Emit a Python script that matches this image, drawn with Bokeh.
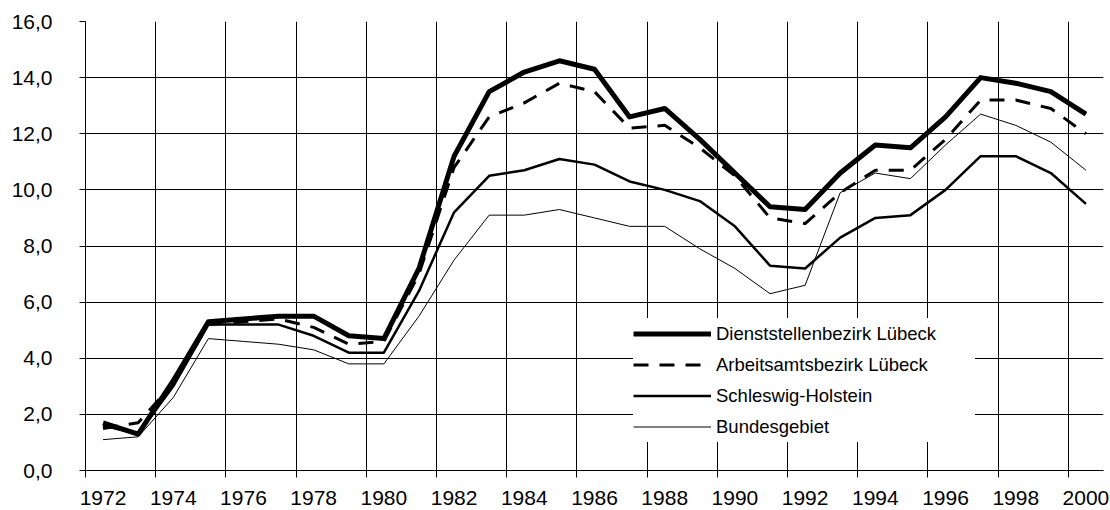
from bokeh.plotting import figure
from bokeh.models import FixedTicker, Range1d, Legend, LegendItem
from bokeh.embed import file_html
from bokeh.resources import INLINE

years = list(range(1972, 2001))
dienst = [1.7, 1.3, 3.2, 5.3, 5.4, 5.5, 5.5, 4.8, 4.7, 7.2, 11.2, 13.5, 14.2, 14.6, 14.3,
          12.6, 12.9, 11.8, 10.6, 9.4, 9.3, 10.6, 11.6, 11.5, 12.6, 14.0, 13.8, 13.5, 12.7]
arbeit = [1.5, 1.7, 3.1, 5.2, 5.3, 5.4, 5.1, 4.5, 4.6, 7.0, 10.8, 12.6, 13.1, 13.8, 13.5,
          12.2, 12.3, 11.5, 10.5, 9.0, 8.8, 9.9, 10.7, 10.7, 11.8, 13.2, 13.2, 12.9, 12.0]
schleswig = [1.6, 1.3, 3.0, 5.2, 5.2, 5.2, 4.8, 4.2, 4.2, 6.4, 9.2, 10.5, 10.7, 11.1, 10.9,
             10.3, 10.0, 9.6, 8.7, 7.3, 7.2, 8.3, 9.0, 9.1, 10.0, 11.2, 11.2, 10.6, 9.5]
bund = [1.1, 1.2, 2.6, 4.7, 4.6, 4.5, 4.3, 3.8, 3.8, 5.5, 7.5, 9.1, 9.1, 9.3, 9.0,
        8.7, 8.7, 7.9, 7.2, 6.3, 6.6, 9.9, 10.6, 10.4, 11.6, 12.7, 12.3, 11.7, 10.7]
series_names = ["Dienststellenbezirk Lübeck", "Arbeitsamtsbezirk Lübeck",
                "Schleswig-Holstein", "Bundesgebiet"]
label_years = list(range(1972, 2001, 2))
y_ticks = list(range(0, 17, 2))

# category axis: each year occupies one slot, point at slot centre
xc = [y + 0.5 for y in years]

FONT = "Liberation Sans"

p = figure(width=1110, height=510, output_backend="svg", toolbar_location=None,
           x_range=Range1d(1972, 2001), y_range=Range1d(0, 16),
           min_border_left=85, min_border_right=7, min_border_top=21, min_border_bottom=40)
p.outline_line_color = None
p.background_fill_color = "white"
p.border_fill_color = "white"

# grids
p.xgrid.ticker = FixedTicker(ticks=label_years)
p.ygrid.ticker = FixedTicker(ticks=y_ticks)
for g in (p.xgrid, p.ygrid):
    g.grid_line_color = "#000000"
    g.grid_line_width = 1

# x axis: labels centred in category slots, tick marks at slot borders
xa = p.xaxis[0]
xa.ticker = FixedTicker(ticks=[y + 0.5 for y in label_years], minor_ticks=label_years)
xa.major_label_overrides = {y + 0.5: str(y) for y in label_years}
xa.major_tick_line_color = None
xa.major_tick_out = 0
xa.major_tick_in = 0
xa.minor_tick_line_color = "#000000"
xa.minor_tick_out = 7
xa.minor_tick_in = 0
xa.major_label_standoff = 13
xa.axis_line_color = "#000000"
xa.major_label_text_font = FONT
xa.major_label_text_font_size = "21px"
xa.major_label_text_color = "#000000"

ya = p.yaxis[0]
ya.ticker = FixedTicker(ticks=y_ticks)
ya.major_label_overrides = {t: f"{t},0" for t in y_ticks}
ya.major_tick_out = 6
ya.major_tick_in = 0
ya.minor_tick_line_color = None
ya.major_tick_line_color = "#000000"
ya.axis_line_color = "#000000"
ya.major_label_standoff = 27
ya.major_label_text_font = FONT
ya.major_label_text_font_size = "21px"
ya.major_label_text_color = "#000000"

r_bund = p.line(xc, bund, line_color="#000000", line_width=1, line_join="round")
r_sh = p.line(xc, schleswig, line_color="#000000", line_width=2.5, line_join="round")
r_arb = p.line(xc, arbeit, line_color="#000000", line_width=3, line_dash="15 11", line_join="round")
r_di = p.line(xc, dienst, line_color="#000000", line_width=5, line_join="round")

legend = Legend(items=[LegendItem(label=series_names[0], renderers=[r_di]),
                       LegendItem(label=series_names[1], renderers=[r_arb]),
                       LegendItem(label=series_names[2], renderers=[r_sh]),
                       LegendItem(label=series_names[3], renderers=[r_bund])],
                location=(548, 28), padding=0, spacing=0, margin=0,
                glyph_width=78, glyph_height=31, label_height=31, label_standoff=5,
                label_width=259,
                background_fill_color="white", background_fill_alpha=1.0,
                border_line_color=None,
                label_text_font=FONT, label_text_font_size="18.5px", label_text_color="#000000")
p.add_layout(legend, "center")

open("out.html", "w").write(file_html(p, INLINE))
